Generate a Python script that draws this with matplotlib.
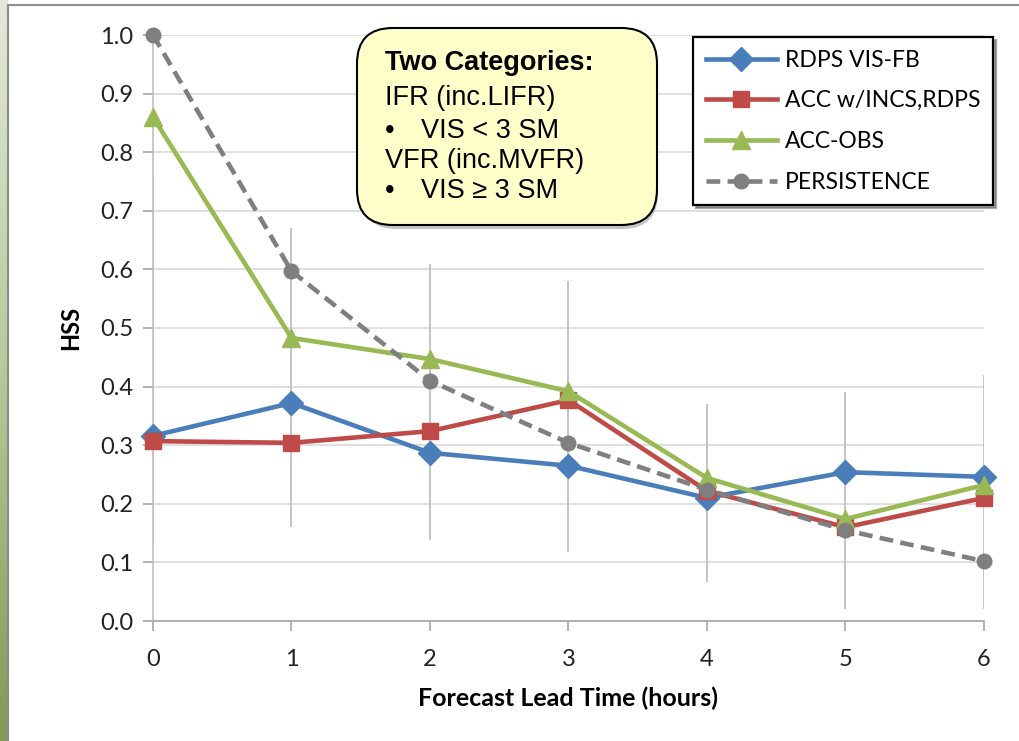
import matplotlib
matplotlib.use("Agg")
import matplotlib.pyplot as plt
import numpy as np
from matplotlib.patches import FancyBboxPatch

# data
lead_hours = [0, 1, 2, 3, 4, 5, 6]
rdps_visfb = [0.316, 0.372, 0.287, 0.265, 0.210, 0.254, 0.246]
acc_incs = [0.307, 0.304, 0.324, 0.377, 0.222, 0.160, 0.210]
acc_obs = [0.860, 0.483, 0.447, 0.392, 0.244, 0.174, 0.232]
persistence = [1.000, 0.597, 0.410, 0.304, 0.224, 0.155, 0.102]

# vertical range bars (low / high)
range_lo = [0.14, 0.16, 0.138, 0.118, 0.067, 0.02, 0.02]
range_hi = [0.76, 0.67, 0.61, 0.58, 0.37, 0.39, 0.42]

y_ticks = [0.0, 0.1, 0.2, 0.3, 0.4, 0.5, 0.6, 0.7, 0.8, 0.9, 1.0]

BLUE = "#4A7EBB"
RED = "#BE4B48"
GREEN = "#98B954"
GRAY = "#7F7F7F"
GRID = "#D9D9D9"

W, H = 1020, 741
fig = plt.figure(figsize=(W / 100, H / 100), dpi=100)

# green side stripe and frame
strip = fig.add_axes([0, 0, 8 / W, 1])
grad = np.linspace(0, 1, 256).reshape(-1, 1)
cmap = matplotlib.colors.LinearSegmentedColormap.from_list(
    "side", ["#E3E9D8", "#B7C89A", "#7F9B55"])
strip.imshow(grad, aspect="auto", cmap=cmap)
strip.axis("off")
fig.add_artist(plt.Line2D([8.5 / W, 8.5 / W], [0, 1 - 5 / H], color="#8C8C8C", lw=1.5))
fig.add_artist(plt.Line2D([8.5 / W, 1], [1 - 5 / H, 1 - 5 / H], color="#8C8C8C", lw=1.5))

ax = fig.add_axes([153 / W, 1 - 621 / H, (984 - 153) / W, (621 - 35) / H])
ax.set_xlim(0, 6)
ax.set_ylim(0, 1.0)

for side in ["top", "right"]:
    ax.spines[side].set_visible(False)
ax.spines["left"].set_color("#BFBFBF")
ax.spines["bottom"].set_color("#A6A6A6")
ax.spines["left"].set_linewidth(1.2)
ax.spines["bottom"].set_linewidth(1.2)

ax.set_yticks(y_ticks)
ax.set_yticklabels([f"{v:.1f}" for v in y_ticks])
ax.set_xticks(lead_hours)
ax.yaxis.grid(True, color=GRID, lw=1.2)
ax.set_axisbelow(True)
ax.tick_params(axis="both", labelsize=17, colors="#A6A6A6", labelcolor="#222222",
               length=7, width=1.2)
ax.tick_params(axis="y", pad=7)
ax.tick_params(axis="x", direction="out", pad=13)
for lab in ax.get_xticklabels() + ax.get_yticklabels():
    lab.set_family("Lato")

ax.vlines(lead_hours, range_lo, range_hi, color="#BFBFBF", lw=1.3, zorder=1)

ax.plot(lead_hours, rdps_visfb, color=BLUE, lw=3.3, marker="D", ms=12,
        label="RDPS VIS-FB", zorder=3, clip_on=False)
ax.plot(lead_hours, acc_incs, color=RED, lw=3.3, marker="s", ms=11.5,
        label="ACC w/INCS,RDPS", zorder=4, clip_on=False)
ax.plot(lead_hours, acc_obs, color=GREEN, lw=3.3, marker="^", ms=13,
        label="ACC-OBS", zorder=5, clip_on=False)
ax.plot(lead_hours, persistence, color=GRAY, lw=3.3, ls=(0, (3, 1.6)), marker="o", ms=10.5,
        label="PERSISTENCE", zorder=6, clip_on=False)

ax.set_ylabel("HSS", fontsize=17, fontweight="bold", family="Lato", labelpad=13)
ax.set_xlabel("Forecast Lead Time (hours)", fontsize=18, fontweight="bold",
              family="Lato", labelpad=12)

leg = ax.legend(loc="upper left", bbox_to_anchor=(693 / W, 1 - 37 / H),
                bbox_transform=fig.transFigure, borderaxespad=0, frameon=True,
                fancybox=False, shadow={"color": "#555555", "alpha": 0.5},
                borderpad=0.55, handlelength=3.1, handletextpad=0.35,
                labelspacing=0.86, prop={"family": "Lato", "size": 16.5})
leg.get_frame().set_edgecolor("black")
leg.get_frame().set_linewidth(1.6)
leg.set_zorder(10)

# note box
shadow = FancyBboxPatch((361 / W, 1 - 229 / H), 297 / W, 194 / H,
                        boxstyle="round,pad=0,rounding_size=0.035",
                        transform=fig.transFigure, facecolor="#8C8C8C", alpha=0.5,
                        edgecolor="none", zorder=8, mutation_aspect=W / H)
fig.add_artist(shadow)
box = FancyBboxPatch((357 / W, 1 - 225 / H), 300 / W, 197 / H,
                     boxstyle="round,pad=0,rounding_size=0.035",
                     transform=fig.transFigure, facecolor="#FFFFC9",
                     edgecolor="black", lw=1.5, zorder=9, mutation_aspect=W / H)
fig.add_artist(box)

note_lines = [("Two Categories:", "bold", 385),
              ("IFR (inc.LIFR)", "normal", 385),
              ("\u2022", "normal", 385),
              ("VFR (inc.MVFR)", "normal", 385),
              ("\u2022", "normal", 385)]
note_y = [63, 98, 131, 161, 191]
for (txt, wt, xp), yp in zip(note_lines, note_y):
    fig.text(xp / W, 1 - yp / H, txt, fontsize=19.5, fontweight=wt,
             family="Liberation Sans", va="center", ha="left", zorder=10)
fig.text(421 / W, 1 - 131 / H, "VIS < 3 SM", fontsize=19.5, family="Liberation Sans",
         va="center", ha="left", zorder=10)
fig.text(421 / W, 1 - 191 / H, "VIS \u2265 3 SM", fontsize=19.5, family="Liberation Sans",
         va="center", ha="left", zorder=10)

fig.savefig("out.png", dpi=100)
